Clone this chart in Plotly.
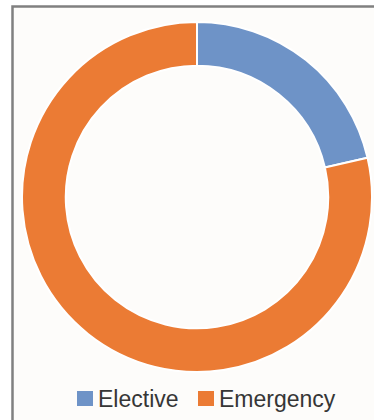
import plotly.graph_objects as go

# Admission type share (%)
categories = ["Elective", "Emergency"]
shares = [21.4, 78.6]
colors = ["#6e93c7", "#eb7b34"]

W, H = 374, 420

fig = go.Figure(
    go.Pie(
        labels=categories,
        values=shares,
        hole=0.75,
        sort=False,
        direction="clockwise",
        rotation=0,
        textinfo="none",
        hoverinfo="label+percent",
        marker=dict(colors=colors, line=dict(color="#ffffff", width=2)),
        showlegend=False,
        domain=dict(x=[22 / W, 372 / W], y=[48 / H, 398 / H]),
    )
)

shapes = [
    # chart frame
    dict(type="rect", xref="paper", yref="paper",
         x0=12.5 / W, x1=1.05, y0=-0.05, y1=1 - 6.5 / H,
         line=dict(color="#808080", width=2.5), fillcolor="#fdfcfa", layer="below"),
]
annotations = []

# legend: colour swatch + label for each category
legend_x = [77, 198]
for cat, col, x in zip(categories, colors, legend_x):
    shapes.append(dict(type="rect", xref="paper", yref="paper",
                       x0=x / W, x1=(x + 16) / W,
                       y0=1 - 406 / H, y1=1 - 391 / H,
                       line=dict(width=0), fillcolor=col))
    annotations.append(dict(text=cat, xref="paper", yref="paper",
                            x=(x + 19) / W, y=1 - 399 / H,
                            xanchor="left", yanchor="middle", showarrow=False,
                            font=dict(family="Liberation Sans, Arial", size=23, color="#363636")))

fig.update_layout(
    width=W, height=H,
    margin=dict(l=0, r=0, t=0, b=0),
    paper_bgcolor="#ffffff",
    plot_bgcolor="#ffffff",
    shapes=shapes,
    annotations=annotations,
)

fig.write_html("out.html")
